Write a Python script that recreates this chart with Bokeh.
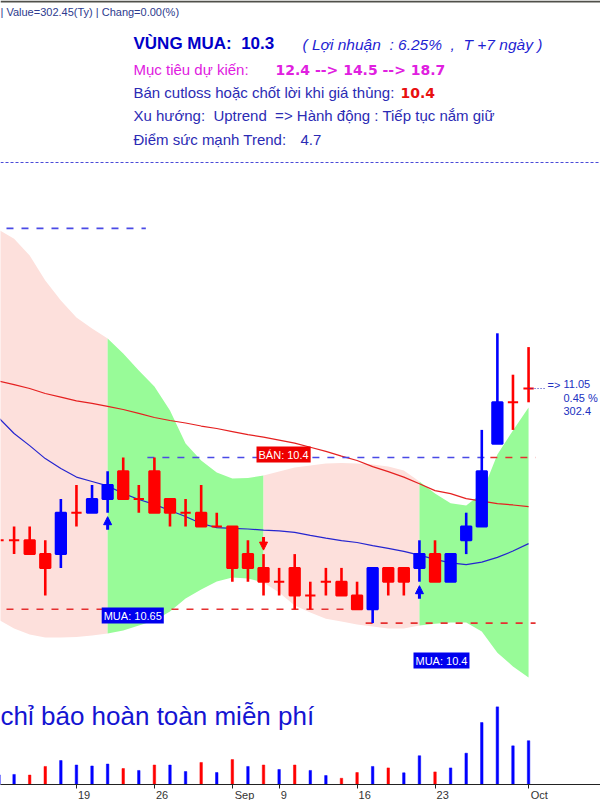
import datetime as dt
from bokeh.plotting import figure
from bokeh.models import Range1d, FixedTicker, Label, Span, Arrow, NormalHead, ColumnDataSource
from bokeh.embed import file_html
from bokeh.resources import INLINE

# ---------------- data ----------------
DATES = ["2024-08-12", "2024-08-13", "2024-08-14", "2024-08-15", "2024-08-16",
         "2024-08-19", "2024-08-20", "2024-08-21", "2024-08-22", "2024-08-23",
         "2024-08-26", "2024-08-27", "2024-08-28", "2024-08-29", "2024-08-30",
         "2024-09-04", "2024-09-05", "2024-09-06",
         "2024-09-09", "2024-09-10", "2024-09-11", "2024-09-12", "2024-09-13",
         "2024-09-16", "2024-09-17", "2024-09-18", "2024-09-19", "2024-09-20",
         "2024-09-23", "2024-09-24", "2024-09-25", "2024-09-26", "2024-09-27",
         "2024-09-30", "2024-10-01"]
OPEN = [10.50, 10.50, 10.50, 10.45, 10.45, 10.60, 10.60, 10.65, 10.75, 10.65,
        10.75, 10.65, 10.60, 10.60, 10.55, 10.55, 10.45, 10.40, 10.35, 10.40,
        10.30, 10.35, 10.35, 10.30, 10.25, 10.40, 10.40, 10.40, 10.45, 10.35,
        10.50, 10.55, 10.85, 11.00, 11.05]
HIGH = [10.55, 10.55, 10.55, 10.50, 10.65, 10.70, 10.70, 10.75, 10.80, 10.70,
        10.80, 10.65, 10.65, 10.70, 10.60, 10.55, 10.50, 10.45, 10.40, 10.45,
        10.35, 10.40, 10.40, 10.35, 10.40, 10.40, 10.40, 10.50, 10.50, 10.45,
        10.60, 10.90, 11.25, 11.10, 11.20]
LOW = [10.45, 10.45, 10.45, 10.30, 10.40, 10.55, 10.60, 10.60, 10.65, 10.60,
       10.60, 10.55, 10.55, 10.55, 10.55, 10.35, 10.35, 10.30, 10.30, 10.25,
       10.25, 10.30, 10.30, 10.25, 10.20, 10.30, 10.30, 10.35, 10.35, 10.35,
       10.45, 10.55, 10.85, 10.90, 11.00]
CLOSE = [10.50, 10.50, 10.45, 10.40, 10.60, 10.60, 10.65, 10.70, 10.65, 10.65,
         10.60, 10.60, 10.60, 10.55, 10.55, 10.40, 10.40, 10.35, 10.35, 10.30,
         10.30, 10.35, 10.30, 10.25, 10.40, 10.35, 10.35, 10.45, 10.35, 10.45,
         10.55, 10.75, 11.00, 11.00, 11.05]
VOLUME = [6.0, 6.3, 5.9, 11.3, 15.0, 12.2, 11.6, 12.8, 10.0, 8.8,
          12.2, 12.2, 8.1, 13.8, 7.5, 15.6, 11.3, 12.2, 9.4, 12.2,
          8.8, 5.6, 3.9, 7.5, 11.3, 10.4, 7.3, 18.0, 7.9, 10.4,
          19.6, 38.8, 48.6, 24.2, 27.4]
MA_FAST = [10.945, 10.887, 10.843, 10.796, 10.760, 10.729, 10.713, 10.697, 10.670, 10.648,
           10.630, 10.608, 10.586, 10.561, 10.546, 10.543, 10.541, 10.537, 10.534, 10.529,
           10.518, 10.508, 10.499, 10.492, 10.481, 10.471, 10.460, 10.446, 10.431, 10.418,
           10.412, 10.421, 10.438, 10.461, 10.488]
MA_SLOW = [11.077, 11.064, 11.050, 11.032, 11.019, 11.005, 10.996, 10.985, 10.974, 10.960,
           10.945, 10.934, 10.925, 10.914, 10.905, 10.894, 10.883, 10.874, 10.863, 10.852,
           10.837, 10.822, 10.805, 10.789, 10.767, 10.749, 10.729, 10.705, 10.680, 10.669,
           10.651, 10.642, 10.633, 10.628, 10.622]
BAND_UP = [11.626, 11.593, 11.532, 11.441, 11.369, 11.307, 11.267, 11.231, 11.177, 11.115,
           11.057, 10.970, 10.851, 10.789, 10.746, 10.724, 10.726, 10.735, 10.749, 10.764,
           10.771, 10.778, 10.780, 10.778, 10.775, 10.767, 10.753, 10.713, 10.670, 10.634,
           10.626, 10.670, 10.811, 10.898, 10.981]
BAND_LO = [10.213, 10.180, 10.159, 10.148, 10.148, 10.150, 10.155, 10.162, 10.173, 10.191,
           10.209, 10.242, 10.289, 10.322, 10.351, 10.365, 10.362, 10.347, 10.311, 10.264,
           10.238, 10.216, 10.206, 10.195, 10.188, 10.180, 10.180, 10.191, 10.198, 10.202,
           10.202, 10.170, 10.093, 10.043, 10.003]

BUY_SIGNALS = [("2024-08-21", "MUA: 10.65"), ("2024-09-20", "MUA: 10.4")]
SELL_SIGNALS = [("2024-09-06", "BÁN: 10.4")]
LEVELS = [(11.63, "2024-08-12", "2024-08-23", "blue"),
          (10.80, "2024-08-26", "2024-09-26", "blue"),
          (10.80, "2024-09-27", "2024-10-01", "red"),
          (10.25, "2024-08-12", "2024-09-16", "red"),
          (10.20, "2024-09-17", "2024-10-01", "red")]
LAST_TEXT = ["11.05", "0.45 %", "302.4"]

NB = "\u00a0"
HEADER_TOP = "| Value=302.45(Ty) | Chang=0.00(%)"
ZONE = "VÙNG MUA:" + NB + " 10.3"
PROFIT = "( Lợi nhuận" + NB + " : 6.25%" + NB + " ," + NB + " T +7 ngày )"
TARGET_LBL = "Mục tiêu dự kiến:"
TARGET_VAL = "12.4 --> 14.5 --> 18.7"
CUT_LBL = "Bán cutloss hoặc chốt lời khi giá thủng:"
CUT_VAL = "10.4"
TREND = "Xu hướng:" + NB + " Uptrend" + NB + " => Hành động : Tiếp tục nắm giữ"
SCORE_LBL = "Điểm sức mạnh Trend:"
SCORE_VAL = "4.7"
PROMO = "chỉ báo hoàn toàn miễn phí"

# ---------------- layout helpers (reference pixel geometry) ----------------
FRAME_W, FRAME_H = 600, 784
X0_PX, BAR_PX = -2.0, 15.59
Y_REF_PX, Y_REF_PRICE, PX_PER_UNIT = 388.0, 11.05, 276.0
VOL_PER_PX = 0.626


def ix(px):
    return (px - X0_PX) / BAR_PX


def py(px):
    return Y_REF_PRICE - (px - Y_REF_PX) / PX_PER_UNIT


def dp(px):
    return px / PX_PER_UNIT


BLUE = "#0000ff"
RED = "#ff0000"
PINK = "#fde0dc"
GREEN = "#98fb98"
TXT_BLUE = "#2b2bb4"
FONT = "Liberation Sans"

n = len(DATES)
xs = list(range(n))
dates = [dt.date.fromisoformat(d) for d in DATES]
pos = {d: i for i, d in enumerate(DATES)}

ccolor = [BLUE if c > o else RED for o, c in zip(OPEN, CLOSE)]
vcolor = [BLUE] + [BLUE if CLOSE[i] >= CLOSE[i - 1] else RED for i in range(1, n)]
src = ColumnDataSource(dict(
    x=xs, open=OPEN, high=HIGH, low=LOW, close=CLOSE, vol=VOLUME,
    btop=[max(o, c) for o, c in zip(OPEN, CLOSE)],
    bbot=[min(o, c) for o, c in zip(OPEN, CLOSE)],
    ccolor=ccolor, vcolor=vcolor))

p = figure(frame_width=FRAME_W, frame_height=FRAME_H,
           x_range=Range1d(ix(0), ix(FRAME_W)),
           y_range=Range1d(py(FRAME_H), py(0)),
           output_backend="svg", toolbar_location=None,
           y_axis_location=None, min_border=0)
p.outline_line_color = None
p.xgrid.visible = False
p.ygrid.visible = False
p.background_fill_color = "white"
p.border_fill_color = "white"
p.extra_y_ranges = {"vol": Range1d(0, FRAME_H * VOL_PER_PX)}

# ---- band, coloured by signal regime ----
events = sorted([(pos[d], "buy") for d, _ in BUY_SIGNALS] + [(pos[d], "sell") for d, _ in SELL_SIGNALS])
start, state = 0, "sell"
segs = []
for idx, kind in events:
    segs.append((start, idx, state))
    start, state = idx, kind
segs.append((start, n - 1, state))
for a, b, st in segs:
    p.varea(x=xs[a:b + 1], y1=BAND_LO[a:b + 1], y2=BAND_UP[a:b + 1],
            fill_color=GREEN if st == "buy" else PINK, fill_alpha=1.0)

# ---- moving averages ----
p.line(xs, MA_SLOW, line_color="#e52020", line_width=1.2)
p.line(xs, MA_FAST, line_color="#2525d0", line_width=1.2)

# ---- dashed levels ----
for lvl, d0, d1, col in LEVELS:
    p.segment(x0=[pos[d0] - 0.45], y0=[lvl], x1=[pos[d1] + 0.45], y1=[lvl],
              line_color="#4a4ae6" if col == "blue" else "#e53030",
              line_width=1.6, line_dash="7 8")

# ---- separator and top border ----
p.add_layout(Span(location=py(162), dimension="width", line_color="#4a4ad8",
                  line_width=1, line_dash="3 2"))
p.add_layout(Span(location=py(1), dimension="width", line_color="#50504a", line_width=2))

# ---- volume ----
p.vbar(x="x", top="vol", bottom=0, width=0.16, fill_color="vcolor",
       line_color="vcolor", line_width=0.5, y_range_name="vol", source=src)

# ---- candles ----
p.segment(x0="x", y0="low", x1="x", y1="high", line_color="ccolor", line_width=2.6, source=src)
p.vbar(x="x", top="btop", bottom="bbot", width=0.66, fill_color="ccolor",
       line_color="ccolor", line_width=2, source=src)

# ---- signal arrows and tags ----
TAG_Y = {"2024-08-21": 615, "2024-09-20": 660, "2024-09-06": 454}
for d, txt_ in BUY_SIGNALS:
    i = pos[d]
    tip = LOW[i] - dp(4)
    p.add_layout(Arrow(end=NormalHead(size=8, fill_color=BLUE, line_color=BLUE),
                       x_start=i, y_start=tip - dp(13), x_end=i, y_end=tip,
                       line_color=BLUE, line_width=3))
    p.add_layout(Label(x=i - 0.38, y=py(TAG_Y[d]), text=txt_, text_color="white",
                       text_font=FONT, text_font_size="11px", text_baseline="middle",
                       background_fill_color="#0000ee", padding=2))
for d, txt_ in SELL_SIGNALS:
    i = pos[d]
    tip = HIGH[i] + dp(4)
    p.add_layout(Arrow(end=NormalHead(size=8, fill_color=RED, line_color=RED),
                       x_start=i, y_start=tip + dp(13), x_end=i, y_end=tip,
                       line_color=RED, line_width=3))
    p.add_layout(Label(x=i - 0.45, y=py(TAG_Y[d]), text=txt_, text_color="white",
                       text_font=FONT, text_font_size="11px", text_baseline="middle",
                       background_fill_color="#ee0000", padding=2))

# ---- last price annotation ----
last = n - 1
p.segment(x0=[last], y0=[CLOSE[last]], x1=[ix(546)], y1=[CLOSE[last]],
          line_color="#3030c0", line_width=1, line_dash="1 2")
p.add_layout(Label(x=ix(547), y=py(384), text="=>", text_color="#2030c0", text_font=FONT,
                   text_font_size="11px", text_baseline="middle"))
for t, ypx in zip(LAST_TEXT, [383, 397, 410]):
    p.add_layout(Label(x=ix(563), y=py(ypx), text=t, text_color="#2030c0", text_font=FONT,
                       text_font_size="11px", text_baseline="middle"))


# ---- header texts ----
def txt(xpx, ypx, text, color, size, style="normal", font=FONT):
    p.add_layout(Label(x=ix(xpx), y=py(ypx), text=text, text_color=color, text_font=font,
                       text_font_size=size, text_font_style=style, text_baseline="middle"))


txt(0, 11, HEADER_TOP, "#2d3a8e", "11px")
txt(133, 43, ZONE, "#0000c8", "17px", "bold")
txt(302, 44, PROFIT, "#1f1fd2", "15.5px", "italic")
txt(133, 69, TARGET_LBL, "#e020e0", "15px")
txt(275, 69, TARGET_VAL, "#e020e0", "14px", "bold", "DejaVu Sans")
txt(133, 92, CUT_LBL, TXT_BLUE, "15px")
txt(400, 92, CUT_VAL, "#e81010", "14px", "bold", "DejaVu Sans")
txt(133, 115, TREND, TXT_BLUE, "15px")
txt(133, 139, SCORE_LBL, TXT_BLUE, "15px")
txt(300, 139, SCORE_VAL, TXT_BLUE, "15px")
txt(0, 715, PROMO, "#1414d2", "26px")

# ---- x axis: weekly ticks, month name on first session of a month ----
month_ticks = [i for i in range(1, n) if dates[i].month != dates[i - 1].month]
week_ticks = [i for i in range(n) if dates[i].weekday() == 0
              and all(abs(i - m) > 2 for m in month_ticks)]
ticks = sorted(month_ticks + week_ticks)
CHAR_W = {"S": 7.3, "e": 6.1, "p": 6.1, "O": 8.6, "c": 5.5, "t": 3.1}
labels = {}
for i in ticks:
    lab = dates[i].strftime("%b") if i in month_ticks else str(dates[i].day)
    w = sum(CHAR_W.get(ch, 6.1) for ch in lab)
    k = int(round((w + 4) / 3.06))
    labels[i] = NB * k + lab          # left-align the label just right of its tick
ax = p.xaxis[0]
ax.ticker = FixedTicker(ticks=ticks)
ax.major_label_overrides = labels
ax.axis_line_color = "#222222"
ax.major_tick_line_color = "#222222"
ax.major_tick_out = 4
ax.major_tick_in = 0
ax.minor_tick_line_color = None
ax.major_label_text_font = FONT
ax.major_label_text_font_size = "11px"
ax.major_label_text_color = "#333333"
ax.major_label_standoff = 0

open("out.html", "w").write(file_html(p, INLINE))
